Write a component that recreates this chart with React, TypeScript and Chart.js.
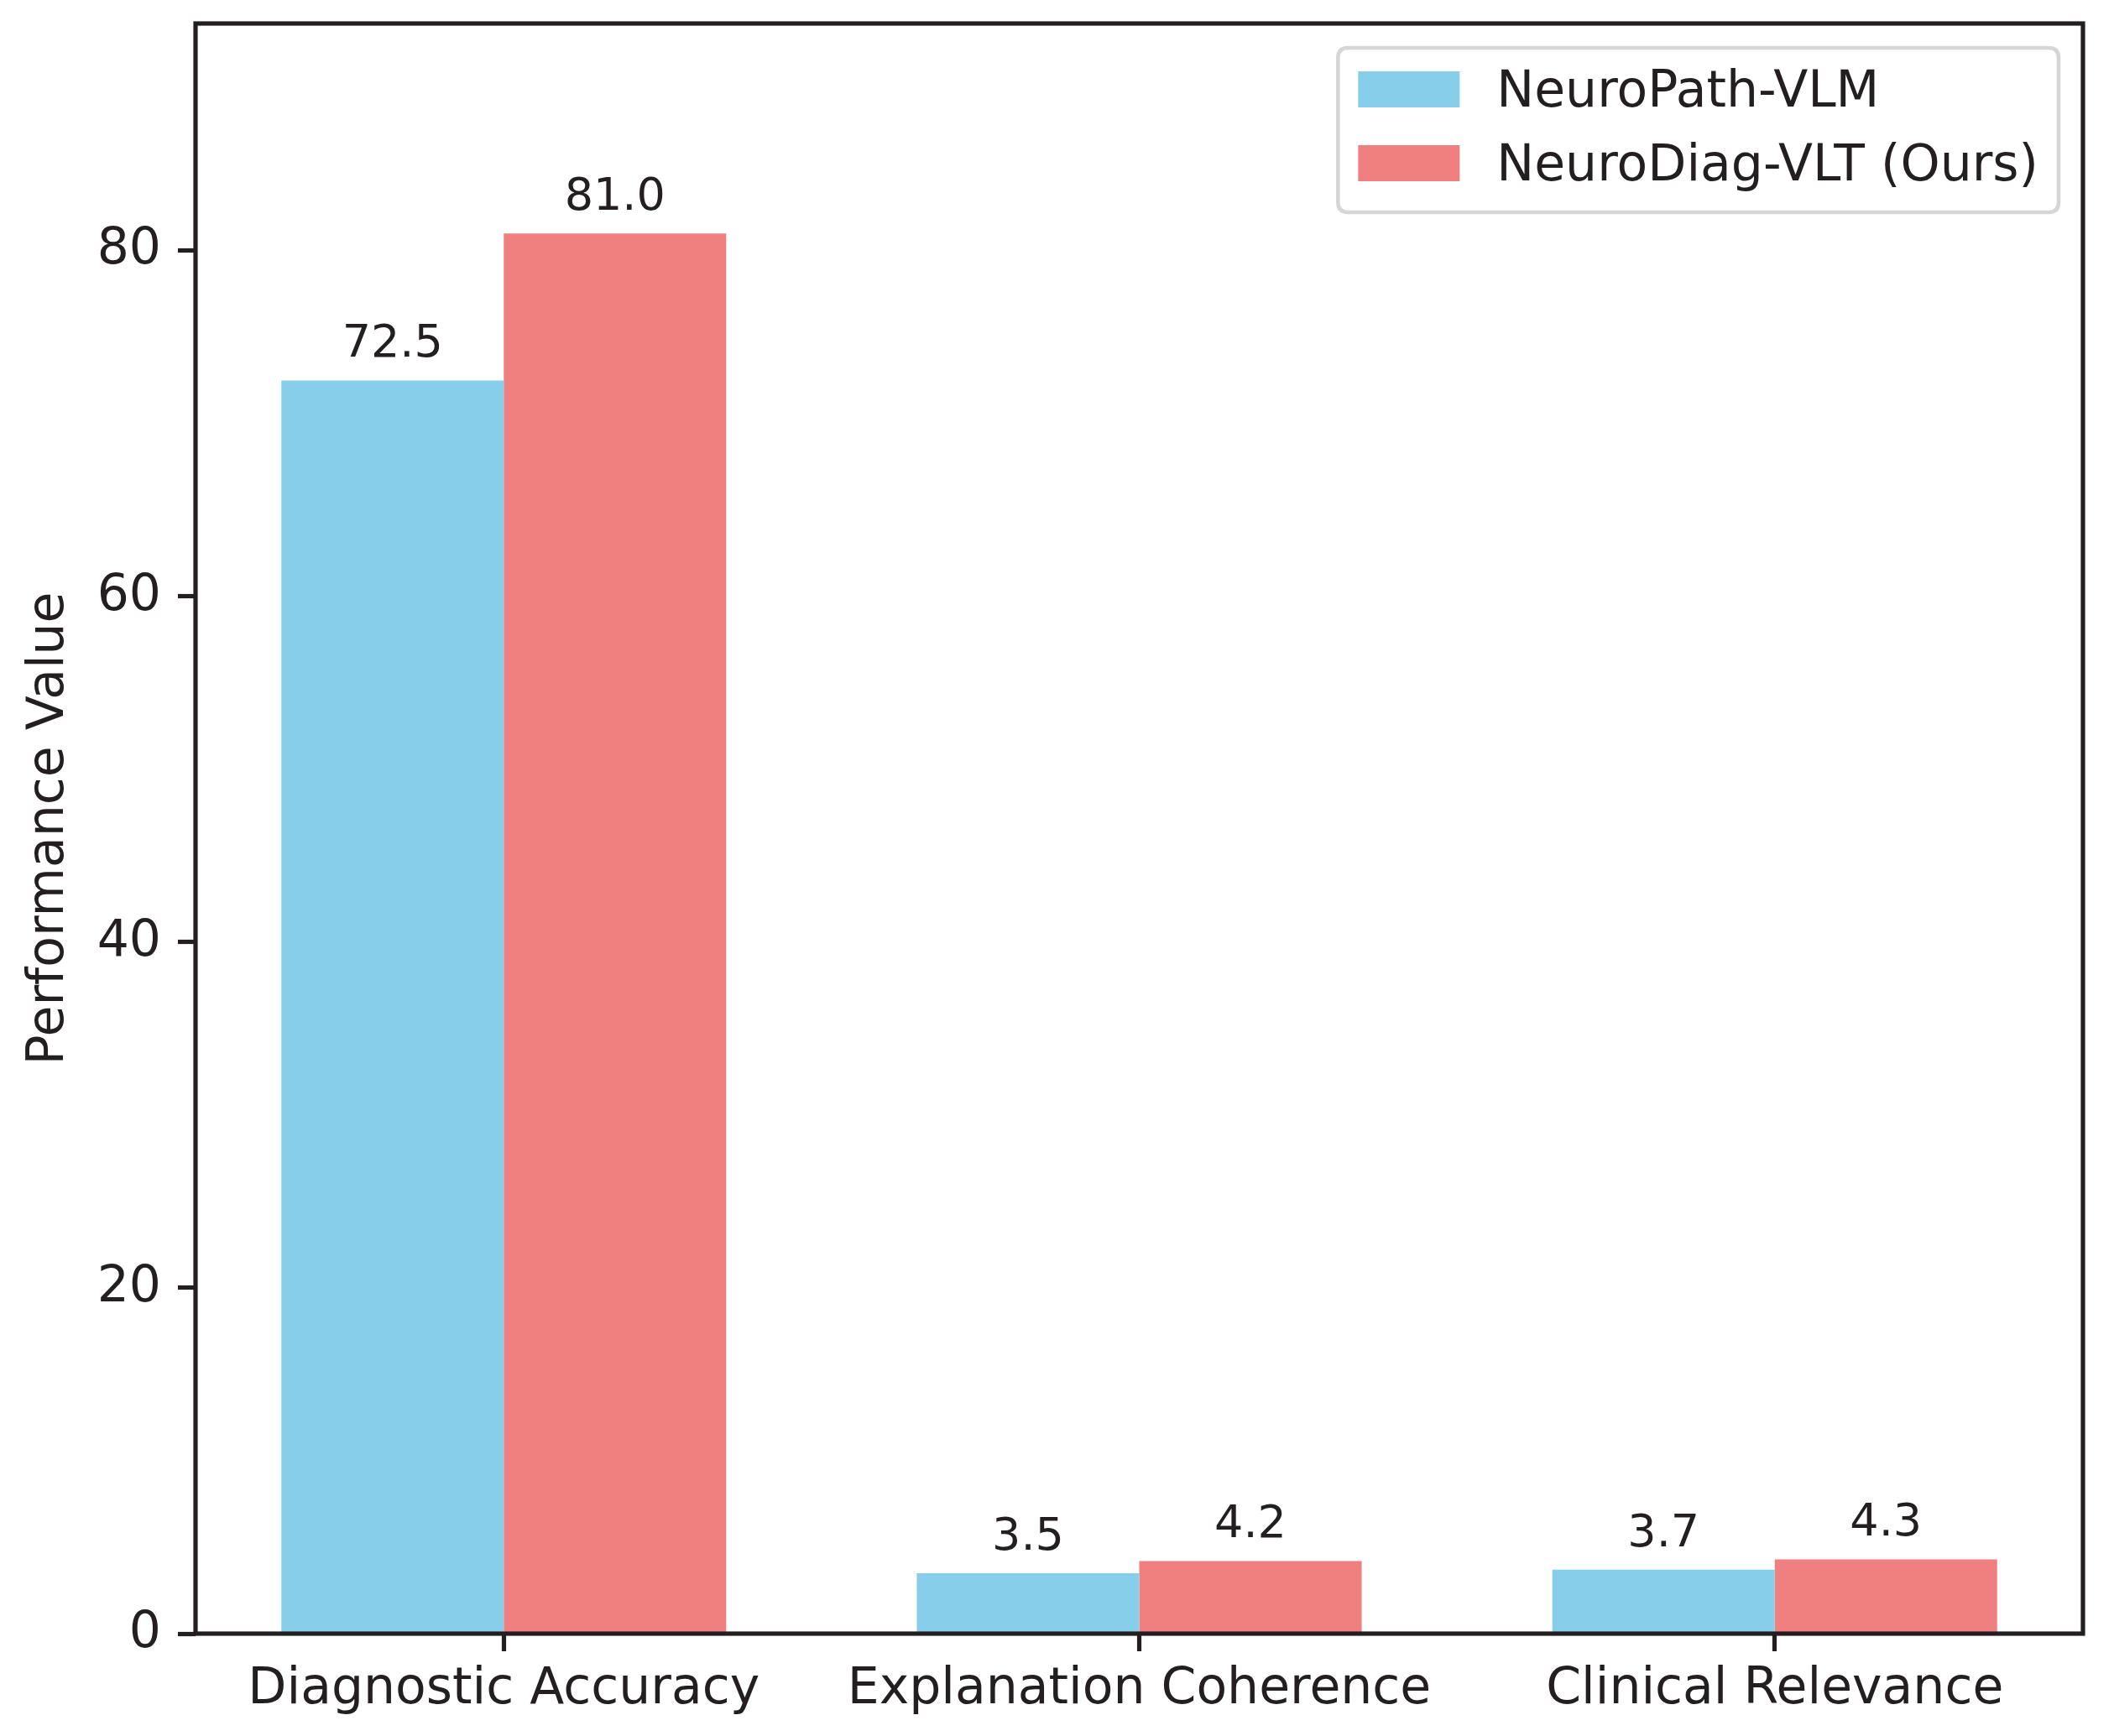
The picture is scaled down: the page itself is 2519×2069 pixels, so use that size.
import React, { useEffect, useRef } from 'react';
import { Chart, registerables } from 'chart.js';

Chart.register(...registerables);

// ---- data ----
const categories = ['Diagnostic Accuracy', 'Explanation Coherence', 'Clinical Relevance'];
const seriesNames = ['NeuroPath-VLM', 'NeuroDiag-VLT (Ours)'];
const neuroPathValues = [72.5, 3.5, 3.7];
const neuroDiagValues = [81.0, 4.2, 4.3];
const yTickValues = [0, 20, 40, 60, 80];
const yLimits = [0, 93.15];
const xLimits = [-0.485, 2.485];
const yAxisTitle = 'Performance Value';

// ---- style ----
const INK = '#231f20';
const FONT = '"DejaVu Sans", "Liberation Sans", sans-serif';
const COLORS = ['#87CEEB', '#F08080'];

const framePlugin = {
  id: 'frame',
  afterDatasetsDraw(chart: any) {
    const { ctx, chartArea } = chart;
    ctx.save();
    ctx.strokeStyle = INK;
    ctx.lineWidth = 5.2;
    ctx.strokeRect(chartArea.left, chartArea.top, chartArea.right - chartArea.left, chartArea.bottom - chartArea.top);
    ctx.restore();
  },
};

const valueLabelPlugin = {
  id: 'valueLabels',
  afterDatasetsDraw(chart: any) {
    const { ctx } = chart;
    ctx.save();
    ctx.font = `54px ${FONT}`;
    ctx.fillStyle = INK;
    ctx.textAlign = 'center';
    ctx.textBaseline = 'alphabetic';
    chart.data.datasets.forEach((ds: any, di: number) => {
      const meta = chart.getDatasetMeta(di);
      meta.data.forEach((bar: any, i: number) => {
        const v = ds.data[i].y as number;
        ctx.fillText(v.toFixed(1), bar.x, bar.y - 28);
      });
    });
    ctx.restore();
  },
};

const legendPlugin = {
  id: 'boxLegend',
  afterDraw(chart: any) {
    const { ctx, chartArea } = chart;
    const datasets = chart.data.datasets;
    ctx.save();
    ctx.font = `60px ${FONT}`;
    let maxW = 0;
    datasets.forEach((ds: any) => {
      maxW = Math.max(maxW, ctx.measureText(ds.label).width);
    });
    const padX = 24;
    const handleW = 121;
    const handleH = 43;
    const gap = 44;
    const rowH = 88;
    const padTop = 28;
    const padBottom = 37;
    const w = padX + handleW + gap + maxW + padX;
    const h = padTop + handleH + rowH * (datasets.length - 1) + padBottom;
    const right = chartArea.right - 29;
    const top = chartArea.top + 29;
    const left = right - w;
    const r = 12;
    ctx.beginPath();
    ctx.moveTo(left + r, top);
    ctx.lineTo(left + w - r, top);
    ctx.quadraticCurveTo(left + w, top, left + w, top + r);
    ctx.lineTo(left + w, top + h - r);
    ctx.quadraticCurveTo(left + w, top + h, left + w - r, top + h);
    ctx.lineTo(left + r, top + h);
    ctx.quadraticCurveTo(left, top + h, left, top + h - r);
    ctx.lineTo(left, top + r);
    ctx.quadraticCurveTo(left, top, left + r, top);
    ctx.closePath();
    ctx.fillStyle = 'rgba(255,255,255,0.8)';
    ctx.fill();
    ctx.strokeStyle = 'rgba(204,204,204,0.8)';
    ctx.lineWidth = 4.5;
    ctx.stroke();
    datasets.forEach((ds: any, i: number) => {
      const y = top + padTop + i * rowH;
      ctx.fillStyle = ds.backgroundColor;
      ctx.fillRect(left + padX, y, handleW, handleH);
      ctx.fillStyle = INK;
      ctx.textAlign = 'left';
      ctx.textBaseline = 'alphabetic';
      ctx.fillText(ds.label, left + padX + handleW + gap, y + 42);
    });
    ctx.restore();
  },
};

export default function App() {
  const canvasRef = useRef<HTMLCanvasElement | null>(null);

  useEffect(() => {
    if (!canvasRef.current) return;
    const seriesValues = [neuroPathValues, neuroDiagValues];
    const chart = new Chart(canvasRef.current, {
      type: 'bar',
      data: {
        datasets: seriesNames.map((name, si) => ({
          label: name,
          data: seriesValues[si].map((v, i) => ({ x: i, y: v })),
          backgroundColor: COLORS[si],
          borderWidth: 0,
          categoryPercentage: 0.7,
          barPercentage: 1.0,
        })),
      },
      options: {
        animation: false,
        responsive: true,
        maintainAspectRatio: false,
        layout: { padding: { top: 28, right: 37, left: 0, bottom: 0 } },
        plugins: {
          legend: { display: false },
          tooltip: { enabled: false },
        },
        scales: {
          x: {
            type: 'linear',
            min: xLimits[0],
            max: xLimits[1],
            offset: false,
            afterBuildTicks: (axis: any) => {
              axis.ticks = categories.map((_, i) => ({ value: i }));
            },
            afterFit: (scale: any) => {
              scale.height = 122;
              scale.paddingLeft = 0;
              scale.paddingRight = 0;
            },
            ticks: {
              callback: (value: any) => categories[Math.round(Number(value))] ?? '',
              color: INK,
              font: { family: FONT, size: 60 },
              padding: 10,
              maxRotation: 0,
              autoSkip: false,
            },
            grid: {
              display: true,
              drawOnChartArea: false,
              drawTicks: true,
              tickLength: 21,
              tickWidth: 5.2,
              tickColor: INK,
              offset: false,
            },
            border: { display: false },
          },
          y: {
            type: 'linear',
            min: yLimits[0],
            max: yLimits[1],
            afterBuildTicks: (axis: any) => {
              axis.ticks = yTickValues.map((v) => ({ value: v }));
            },
            afterFit: (scale: any) => {
              scale.width = 233;
              scale.paddingTop = 0;
              scale.paddingBottom = 0;
            },
            ticks: {
              color: INK,
              font: { family: FONT, size: 60 },
              padding: 20,
              callback: (value: any) => String(value),
            },
            grid: {
              display: true,
              drawOnChartArea: false,
              drawTicks: true,
              tickLength: 21,
              tickWidth: 5.2,
              tickColor: INK,
            },
            border: { display: false },
            title: {
              display: true,
              text: yAxisTitle,
              color: INK,
              font: { family: FONT, size: 60 },
              padding: { top: 23, bottom: 0 },
            },
          },
        },
      },
      plugins: [framePlugin, valueLabelPlugin, legendPlugin],
    } as any);
    return () => chart.destroy();
  }, []);

  return (
    <div style={{ position: 'absolute', left: 0, top: 0, width: 2519, height: 2069, background: '#ffffff' }}>
      <canvas ref={canvasRef} />
    </div>
  );
}
